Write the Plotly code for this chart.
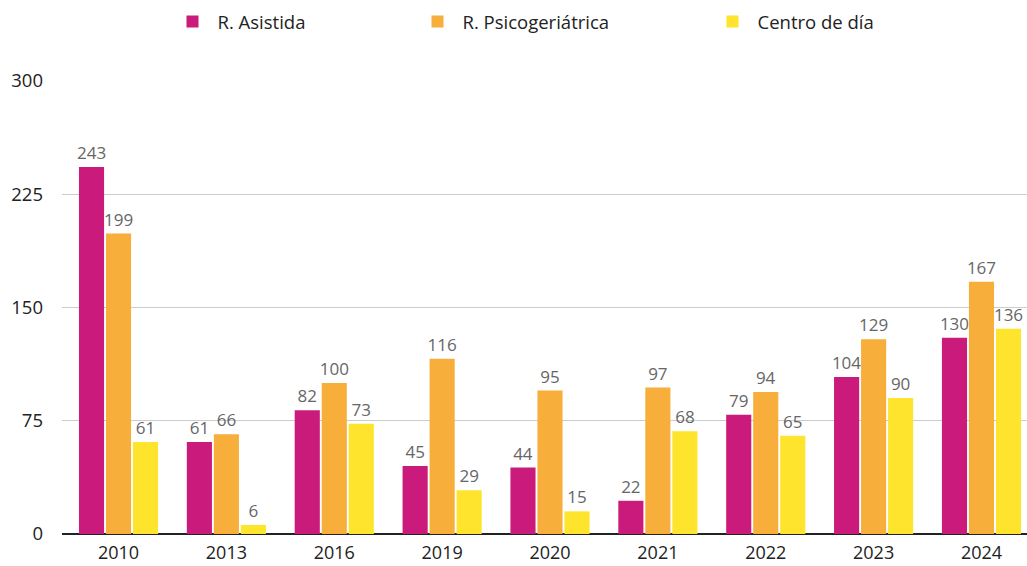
import plotly.graph_objects as go

years = ["2010", "2013", "2016", "2019", "2020", "2021", "2022", "2023", "2024"]
asistida = [243, 61, 82, 45, 44, 22, 79, 104, 130]
psico = [199, 66, 100, 116, 95, 97, 94, 129, 167]
centro = [61, 6, 73, 29, 15, 68, 65, 90, 136]
series_names = ["R. Asistida", "R. Psicogeriátrica", "Centro de día"]
y_ticks = [0, 75, 150, 225, 300]

colors = ["#CA1A7B", "#F8AE3B", "#FEE42D"]
legends = ["legend", "legend2", "legend3"]
FONT = "Open Sans"

fig = go.Figure()
for name, vals, col, lg in zip(series_names, [asistida, psico, centro], colors, legends):
    fig.add_trace(go.Bar(
        x=years, y=vals, name=name, marker=dict(color=col, line=dict(width=0)),
        text=[str(v) for v in vals], textposition="outside", constraintext="none",
        textfont=dict(family=FONT, size=17, color="#666666"),
        cliponaxis=False, legend=lg, showlegend=True,
    ))

leg_common = dict(orientation="h", yref="paper", xref="paper", yanchor="middle",
                  xanchor="left", font=dict(family=FONT, size=18.5, color="#222222"),
                  bgcolor="rgba(0,0,0,0)", itemwidth=40)
# plot area x: 62..1027 (965 px) ; y: 81..534 (453 px)
def px_x(p):
    return (p - 62) / 965
def px_y(p):
    return (534 - p) / 453

fig.update_layout(
    width=1027, height=566,
    margin=dict(l=62, r=0, t=81, b=32, autoexpand=False),
    paper_bgcolor="white", plot_bgcolor="white",
    barmode="group", bargap=0.249, bargroupgap=0.07,
    showlegend=True,
    font=dict(family=FONT, size=18, color="#222222"),
    legend=dict(x=px_x(167.5), y=px_y(22), **leg_common),
    legend2=dict(x=px_x(412.5), y=px_y(22), **leg_common),
    legend3=dict(x=px_x(707.5), y=px_y(22), **leg_common),
    xaxis=dict(showgrid=False, ticks="", tickfont=dict(family=FONT, size=18, color="#222222"),
               showline=False, automargin=False, range=[-0.524, 8.422],
               ticklabelstandoff=6),
    yaxis=dict(range=[0, 300], tickvals=y_ticks, ticktext=[str(t) for t in y_ticks],
               showgrid=True, gridcolor="#CCCCCC", gridwidth=1,
               zeroline=True, zerolinecolor="#222222", zerolinewidth=2,
               tickfont=dict(family=FONT, size=18.5, color="#222222"),
               ticklabelstandoff=18, automargin=False),
)

fig.write_html(
    "out.html",
    config={"displayModeBar": False},
    post_script="document.body.style.margin='0';document.body.style.overflow='hidden';",
)
